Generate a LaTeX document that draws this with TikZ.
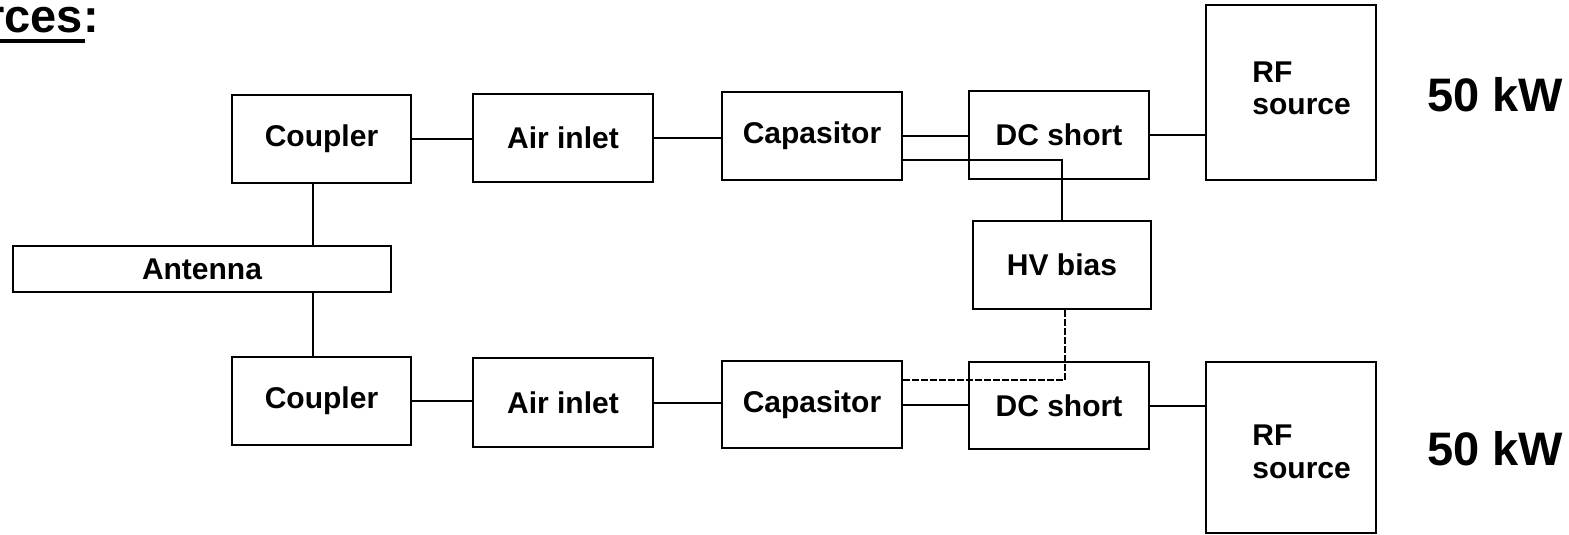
\documentclass[tikz,border=0pt]{standalone}
\usepackage{fontspec}
\setmainfont{Liberation Sans}
\begin{document}
\begin{tikzpicture}[x=0.5pt,y=-0.5pt,
  box/.style={draw, line width=1pt, inner sep=0pt, font=\bfseries\fontsize{15}{18}\selectfont},
  wire/.style={line width=1pt},
  dwire/.style={line width=1pt, dash pattern=on 3.5pt off 1pt},
  big/.style={font=\bfseries\fontsize{23.5}{28}\selectfont, inner sep=0pt, anchor=base west},
  lbl/.style={font=\bfseries\fontsize{15}{16.5}\selectfont, inner sep=0pt, align=left, anchor=base west}
]
\useasboundingbox (0,0) rectangle (1569,535);
% title
\node[big] (title) at (-14,33) {rces:};
\draw[line width=2pt] (0,41) -- (85,41);
% top chain
\node[box, minimum width=89.5pt, minimum height=44pt] (coup1) at (321.5,139) {Coupler};
\node[box, minimum width=90pt, minimum height=44pt] (air1) at (563,138) {Air inlet};
\node[box, minimum width=90pt, minimum height=44pt] (cap1) at (812,136) {Capasitor};
\node[box, minimum width=90pt, minimum height=44pt] (dc1) at (1059,135) {DC short};
\node[box, minimum width=85pt, minimum height=87.5pt] (rf1) at (1291,92.5) {};
\node[lbl] (rf1t) at (1252,115) {RF\\source};
\node[big] (p1) at (1427,112) {50 kW};
% antenna and HV bias
\node[box, minimum width=189pt, minimum height=23pt] (ant) at (202,269) {Antenna};
\node[box, minimum width=89pt, minimum height=44pt] (hv) at (1062,265) {HV bias};
% bottom chain
\node[box, minimum width=89.5pt, minimum height=44pt] (coup2) at (321.5,401) {Coupler};
\node[box, minimum width=90pt, minimum height=44.5pt] (air2) at (563,402.5) {Air inlet};
\node[box, minimum width=90pt, minimum height=43.5pt] (cap2) at (812,404.5) {Capasitor};
\node[box, minimum width=90pt, minimum height=43.5pt] (dc2) at (1059,405.5) {DC short};
\node[box, minimum width=85pt, minimum height=85.5pt] (rf2) at (1291,447.5) {};
\node[lbl] (rf2t) at (1252,478) {RF\\source};
\node[big] (p2) at (1427,465) {50 kW};
% connectors top
\draw[wire] (coup1.east) -- (coup1.east -| air1.west);
\draw[wire] (air1.east) -- (air1.east -| cap1.west);
\draw[wire] (cap1.east) -- (cap1.east -| dc1.west);
\draw[wire] ([yshift=-12pt]cap1.east) -| (hv.north);
\draw[wire] (dc1.east) -- (dc1.east -| rf1.west);
% antenna links
\draw[wire] ([xshift=-4.25pt]coup1.south) -- ([xshift=-4.25pt]coup1.south |- ant.north);
\draw[wire] ([xshift=-4.25pt]coup1.south |- ant.south) -- ([xshift=-4.25pt]coup2.north);
% connectors bottom
\draw[wire] (coup2.east) -- (coup2.east -| air2.west);
\draw[wire] (air2.east) -- (air2.east -| cap2.west);
\draw[wire] (cap2.east) -- (cap2.east -| dc2.west);
\draw[wire] (dc2.east) -- (dc2.east -| rf2.west);
\draw[dwire] ([yshift=12.25pt]cap2.east) -| ([xshift=1.5pt]hv.south);
\end{tikzpicture}
\end{document}
